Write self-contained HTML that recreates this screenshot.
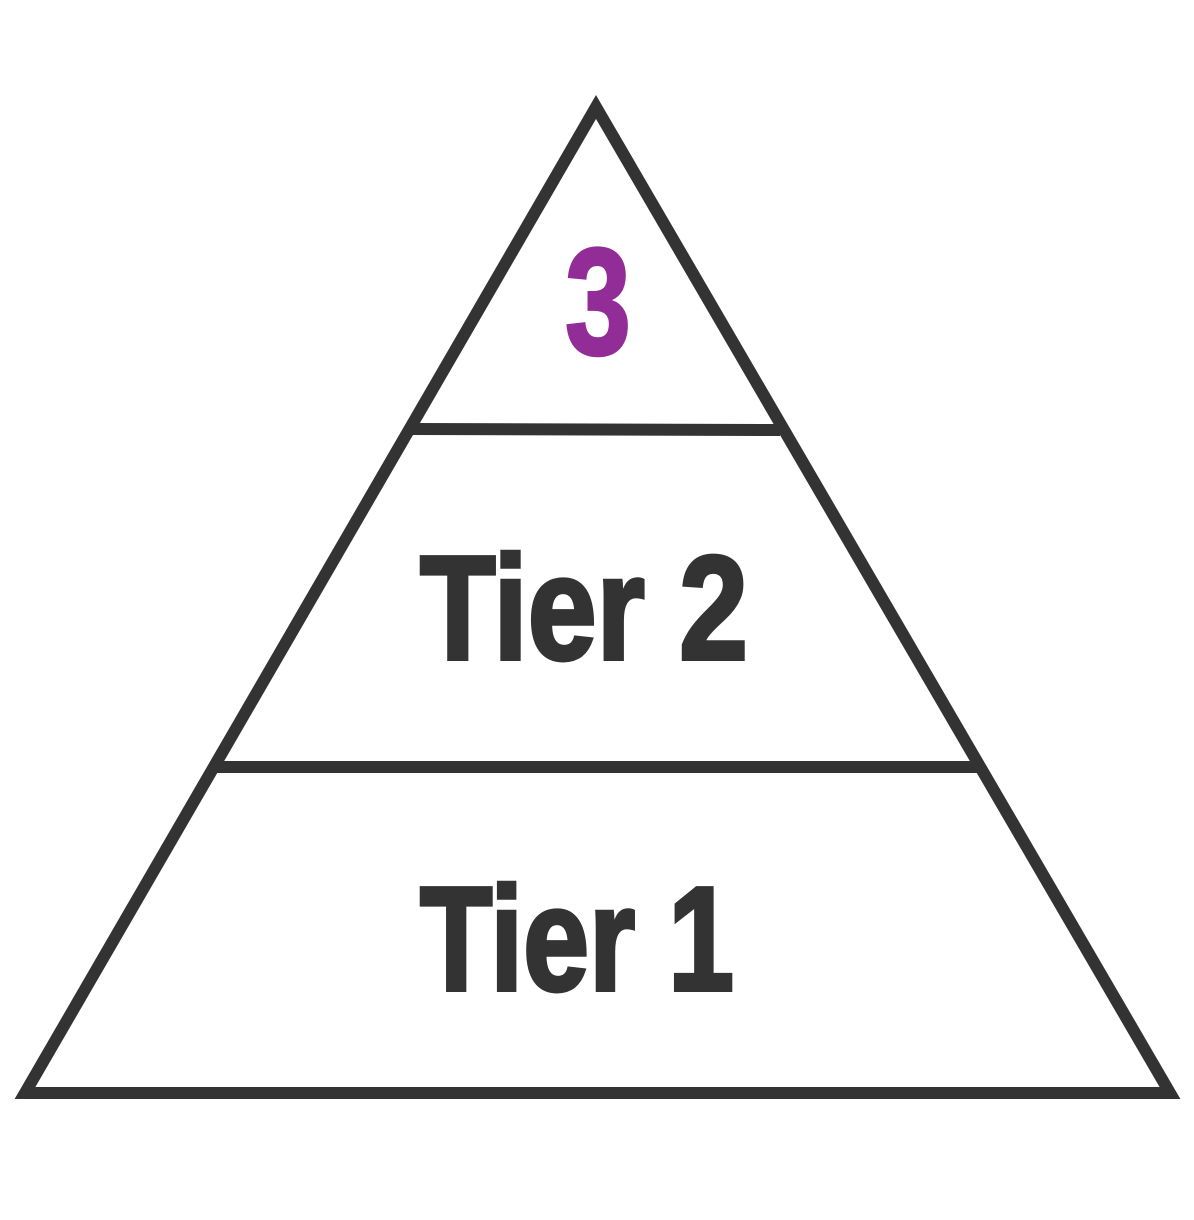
<!DOCTYPE html>
<html><head><style>
html,body{margin:0;padding:0;background:#fff;}
svg{display:block;}
</style></head><body>
<svg width="1194" height="1220" viewBox="0 0 1194 1220" xmlns="http://www.w3.org/2000/svg">
<polygon points="596,107 1170,1093 25,1093" fill="#fff" stroke="#333" stroke-width="12" stroke-linejoin="miter"/>
<line x1="412" y1="429" x2="780" y2="430" stroke="#333" stroke-width="12"/>
<line x1="215" y1="767" x2="978" y2="767" stroke="#333" stroke-width="12"/>
<text x="598" y="354" text-anchor="middle" font-family="Liberation Sans, sans-serif" font-weight="bold" font-size="152" fill="#922c96" stroke="#922c96" stroke-width="3" textLength="66" lengthAdjust="spacingAndGlyphs">3</text>
<text x="420" y="659" font-family="Liberation Sans, sans-serif" font-weight="bold" font-size="148" fill="#333" stroke="#333" stroke-width="4" textLength="328" lengthAdjust="spacingAndGlyphs">Tier 2</text>
<text x="420" y="990" font-family="Liberation Sans, sans-serif" font-weight="bold" font-size="148" fill="#333" stroke="#333" stroke-width="4" textLength="314" lengthAdjust="spacingAndGlyphs">Tier 1</text>
</svg>
</body></html>
